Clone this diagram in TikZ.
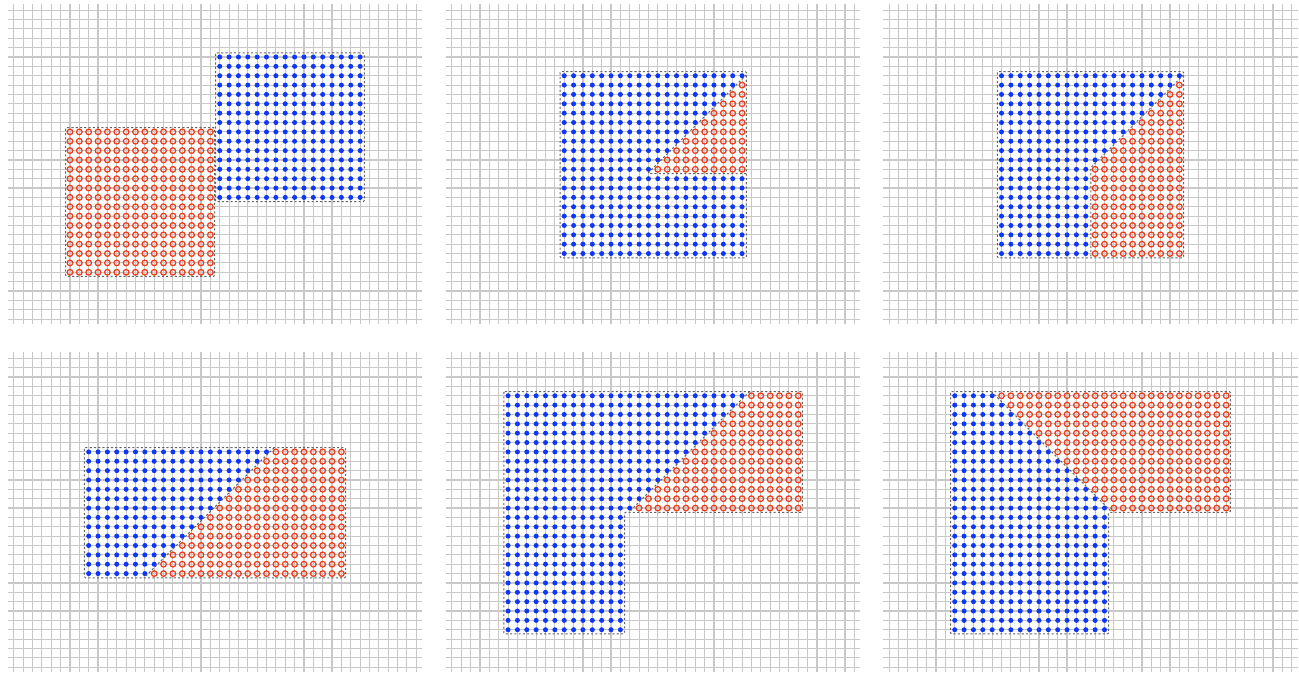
\documentclass[tikz,border=0pt]{standalone}
\usepackage{tikz}
\usetikzlibrary{positioning}
\definecolor{ptblue}{RGB}{15,55,250}
\definecolor{ptred}{RGB}{240,60,25}
\definecolor{gridgray}{RGB}{200,200,200}
\definecolor{boxgray}{RGB}{100,100,100}

% background lattice of one panel
\newcommand\panelgrid{%
  \foreach \i in {0,...,43} \draw[gridline] (\i,-0.7) -- (\i,33.5);
  \foreach \j in {0,...,33} \draw[gridline] (-0.65,\j) -- (43.65,\j);
}
% one lattice point: 1 = red ring, 0 = blue dot
\newcommand\putdot[3]{%
  \ifnum#3=1 \draw[redpt] (#1,#2) circle[radius=2.1pt];%
  \else \fill[bluept] (#1,#2) circle[radius=1.9pt];\fi
}

\begin{document}
\begin{tikzpicture}[x=0.75pt, y=-0.75pt,
    gridline/.style={draw=gridgray, line width=0.85pt},
    bluept/.style={fill=ptblue},
    redpt/.style={draw=ptred, line width=0.95pt},
    outline/.style={draw=boxgray, line width=0.75pt, dash pattern=on 1.6pt off 1.6pt, rounded corners=0.8pt},
    panel/.style 2 args={shift={(#1,#2)}, x=7.02pt, y=-7.02pt}]
  \useasboundingbox (0,0) rectangle (1299,674);

  % Panel 1: two shifted squares
  \begin{scope}[panel={13.8}{10.2}]
    \panelgrid
    \foreach \i in {6,...,21} \foreach \j in {13,...,28} {\putdot{\i}{\j}{1}}
    \foreach \i in {22,...,37} \foreach \j in {5,...,20} {\putdot{\i}{\j}{0}}
    \draw[outline] (5.55,12.55) rectangle (21.45,28.45);
    \draw[outline] (21.55,4.55) rectangle (37.45,20.45);
  \end{scope}

  % Panel 2: square with a triangle cut out
  \begin{scope}[panel={451.9}{10.2}]
    \panelgrid
    \foreach \i in {12,...,31} \foreach \j in {7,...,26} {%
      \pgfmathtruncatemacro\isred{and(\i+\j>38,\j<18)}%
      \putdot{\i}{\j}{\isred}}
    \draw[outline] (11.55,6.55) rectangle (31.45,26.45);
    \draw[outline] (31.45,6.91) -- (20.91,17.45) -- (31.45,17.45);
  \end{scope}

  % Panel 3: square with a trapezoid
  \begin{scope}[panel={889.2}{10.2}]
    \panelgrid
    \foreach \i in {12,...,31} \foreach \j in {7,...,26} {%
      \pgfmathtruncatemacro\isred{and(\i+\j>38,\i>21)}%
      \putdot{\i}{\j}{\isred}}
    \draw[outline] (11.55,6.55) rectangle (31.45,26.45);
    \draw[outline] (31.45,6.91) -- (21.55,16.81) -- (21.55,26.45);
  \end{scope}

  % Panel 4: rectangle cut along a diagonal
  \begin{scope}[panel={13.8}{358.3}]
    \panelgrid
    \foreach \i in {8,...,35} \foreach \j in {10,...,23} {%
      \pgfmathtruncatemacro\isred{\i+\j>37}%
      \putdot{\i}{\j}{\isred}}
    \draw[outline] (7.55,9.55) rectangle (35.45,23.45);
    \draw[outline] (27.81,9.55) -- (13.91,23.45);
  \end{scope}

  % Panel 5: L-shape, red wedge top right
  \begin{scope}[panel={451.9}{358.3}]
    \panelgrid
    \foreach \i in {6,...,37} \foreach \j in {4,...,16} {%
      \pgfmathtruncatemacro\isred{\i+\j>35}%
      \putdot{\i}{\j}{\isred}}
    \foreach \i in {6,...,18} \foreach \j in {17,...,29} {\putdot{\i}{\j}{0}}
    \draw[outline] (5.55,3.55) -- (37.45,3.55) -- (37.45,16.45) -- (18.45,16.45)
      -- (18.45,29.45) -- (5.55,29.45) -- cycle;
    \draw[outline] (31.81,3.55) -- (18.91,16.45);
  \end{scope}

  % Panel 6: L-shape, diagonal the other way
  \begin{scope}[panel={889.2}{358.3}]
    \panelgrid
    \foreach \i in {7,...,36} \foreach \j in {4,...,16} {%
      \pgfmathtruncatemacro\isred{\i-\j>7}%
      \putdot{\i}{\j}{\isred}}
    \foreach \i in {7,...,23} \foreach \j in {17,...,29} {\putdot{\i}{\j}{0}}
    \draw[outline] (6.55,3.55) -- (36.45,3.55) -- (36.45,16.45) -- (23.45,16.45)
      -- (23.45,29.45) -- (6.55,29.45) -- cycle;
    \draw[outline] (10.91,3.55) -- (23.81,16.45);
  \end{scope}
\end{tikzpicture}
\end{document}
